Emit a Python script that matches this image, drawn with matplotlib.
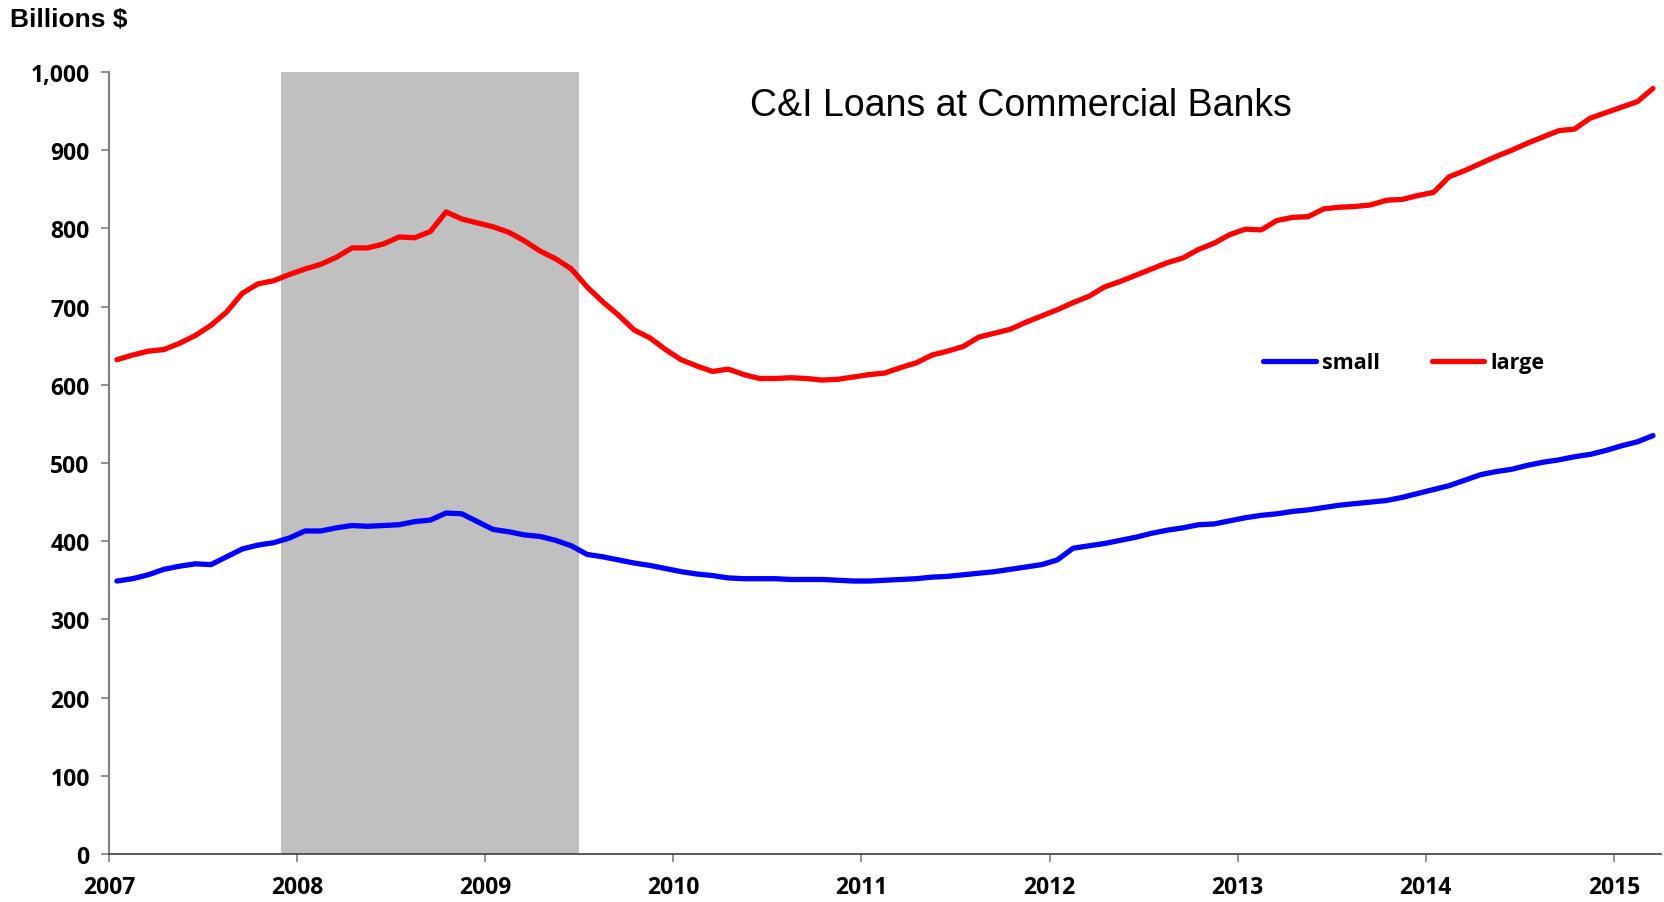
import numpy as np
import matplotlib.pyplot as plt

# monthly values, Jan 2007 - Mar 2015 (billions $)
large = [632, 638, 643, 645, 653, 663, 676, 693, 717, 729, 733, 741,
         748, 754, 763, 775, 775, 780, 789, 788, 796, 821, 812, 807,
         802, 795, 784, 771, 761, 748, 725, 706, 689, 670, 660, 645,
         632, 624, 617, 620, 613, 608, 608, 609, 608, 606, 607, 610,
         613, 615, 622, 628, 638, 643, 649, 661, 666, 671, 680, 688,
         696, 705, 713, 725, 732, 740, 748, 756, 762, 773, 781, 792,
         799, 798, 810, 814, 815, 825, 827, 828, 830, 836, 837, 842,
         846, 866, 874, 883, 892, 900, 909, 917, 925, 927, 941, 948,
         955, 962, 979]
small = [349, 352, 357, 364, 368, 371, 370, 380, 390, 395, 398, 404,
         413, 413, 417, 420, 419, 420, 421, 425, 427, 436, 435, 425,
         415, 412, 408, 406, 401, 394, 383, 380, 376, 372, 369, 365,
         361, 358, 356, 353, 352, 352, 352, 351, 351, 351, 350, 349,
         349, 350, 351, 352, 354, 355, 357, 359, 361, 364, 367, 370,
         376, 391, 394, 397, 401, 405, 410, 414, 417, 421, 422, 426,
         430, 433, 435, 438, 440, 443, 446, 448, 450, 452, 456, 461,
         466, 471, 478, 485, 489, 492, 497, 501, 504, 508, 511, 516,
         522, 527, 535]
recession = (2007 + 11 / 12, 2009 + 6 / 12)
years = list(range(2007, 2016))
yticks = list(range(0, 1001, 100))

x = 2007 + (np.arange(len(large)) + 0.5) / 12

fig = plt.figure(figsize=(16.65, 9.03), dpi=100)
ax = fig.add_axes([0.0655, 0.0532, 0.932, 0.866])

ax.axvspan(*recession, color="#C0C0C0", lw=0, zorder=0)
ax.plot(x, small, color="#0000FF", lw=3.8, label="small", solid_capstyle="round")
ax.plot(x, large, color="#FF0000", lw=3.8, label="large", solid_capstyle="round")

ax.set_xlim(2007, 2007 + len(large) / 12)
ax.set_ylim(0, 1000)
ax.set_xticks(years)
ax.set_yticks(yticks)
ax.set_yticklabels([f"{v:,}" for v in yticks])

for lab in ax.get_xticklabels() + ax.get_yticklabels():
    lab.set_fontweight("bold")
    lab.set_fontsize(16.5)
    lab.set_family("Open Sans")

ax.tick_params(axis="both", direction="out", length=6, width=1.2, color="#808080")
ax.tick_params(axis="x", pad=9)
ax.tick_params(axis="y", pad=8)
for s in ["top", "right"]:
    ax.spines[s].set_visible(False)
ax.spines["left"].set_color("#808080")
ax.spines["left"].set_linewidth(1.5)
ax.spines["bottom"].set_color("#404040")
ax.spines["bottom"].set_linewidth(1.2)

ax.text(0.5876, 0.958, "C&I Loans at Commercial Banks", transform=ax.transAxes,
        ha="center", va="center", fontsize=27, family="Liberation Sans")
fig.text(0.006, 0.978, "Billions $", ha="left", va="center", fontsize=19,
         fontweight="bold", family="Liberation Sans")

ax.legend(loc="center left", bbox_to_anchor=(0.731, 0.628), ncol=2, frameon=False,
          handlelength=2.45, handletextpad=0.3, columnspacing=2.4,
          prop={"family": "Open Sans", "weight": "bold", "size": 15.5})

fig.savefig("out.png", dpi=100)
